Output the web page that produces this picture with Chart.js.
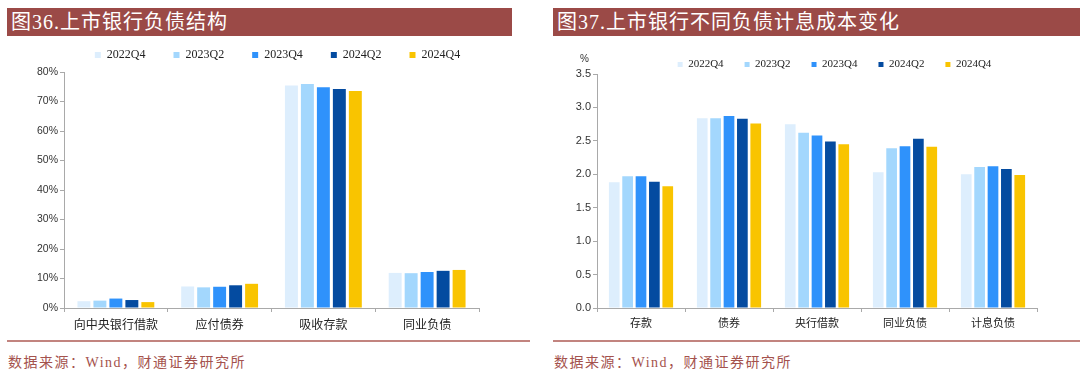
<!DOCTYPE html>
<html lang="zh">
<head>
<meta charset="UTF-8">
<title>上市银行负债结构与计息成本</title>
<script src="https://cdn.jsdelivr.net/npm/chart.js"></script>
<style>
    body {
        margin: 0;
        width: 1080px;
        height: 371px;
        background: #fff;
        position: relative;
        overflow: hidden;
        font-family: "Liberation Serif", "Noto Sans CJK SC", serif;
    }
    .banner {
        position: absolute;
        top: 8px;
        height: 28px;
        background: #9b4a47;
        color: #fff;
        font-size: 20px;
        line-height: 28px;
        padding-left: 4px;
        letter-spacing: 1px;
        box-sizing: border-box;
    }
    .rule {
        position: absolute;
        top: 340px;
        height: 2px;
        background: #c2847f;
    }
    .source {
        position: absolute;
        top: 351px;
        font-size: 14px;
        color: #a4524d;
        letter-spacing: 1.5px;
    }
    canvas { position: absolute; top: 40px; }
    #unit {
        position: absolute;
        left: 580px;
        top: 53px;
        font: 10px "Liberation Sans", sans-serif;
        color: #333;
    }
</style>
</head>
<body>
<div class="banner" style="left:7px;width:505px;">图36.上市银行负债结构</div>
<div class="banner" style="left:553px;width:527px;">图37.上市银行不同负债计息成本变化</div>

<canvas id="structChart" width="490" height="295" style="left:0px"></canvas>
<canvas id="costChart" width="510" height="295" style="left:540px"></canvas>
<div id="unit">%</div>

<div class="rule" style="left:7px;width:523px;"></div>
<div class="rule" style="left:553px;width:527px;"></div>
<div class="source" style="left:8px;">数据来源：Wind，财通证券研究所</div>
<div class="source" style="left:554px;">数据来源：Wind，财通证券研究所</div>

<script>
// series shared by both charts
const seriesNames = ['2022Q4', '2023Q2', '2023Q4', '2024Q2', '2024Q4'];
const seriesColors = ['#ddeefd', '#a3d7fd', '#2f92fb', '#044ba0', '#f9c400'];

// 图36 负债结构 (%)
const structCats = ['向中央银行借款', '应付债券', '吸收存款', '同业负债'];
const struct2022Q4 = [2.3, 7.3, 75.4, 11.9];
const struct2023Q2 = [2.5, 7.0, 75.9, 11.8];
const struct2023Q4 = [3.2, 7.2, 74.8, 12.2];
const struct2024Q2 = [2.7, 7.7, 74.2, 12.6];
const struct2024Q4 = [2.0, 8.2, 73.6, 12.9];
const structTicks = [0, 10, 20, 30, 40, 50, 60, 70, 80];

// 图37 计息成本 (%)
const costCats = ['存款', '债券', '央行借款', '同业负债', '计息负债'];
const cost2022Q4 = [1.88, 2.84, 2.75, 2.03, 2.00];
const cost2023Q2 = [1.97, 2.84, 2.62, 2.39, 2.11];
const cost2023Q4 = [1.97, 2.87, 2.58, 2.42, 2.12];
const cost2024Q2 = [1.89, 2.83, 2.49, 2.53, 2.08];
const cost2024Q4 = [1.82, 2.76, 2.45, 2.41, 1.99];
const costTicks = [0, 0.5, 1.0, 1.5, 2.0, 2.5, 3.0, 3.5];

Chart.defaults.animation = false;
Chart.defaults.color = '#333';

// lets the legend keep wide item spacing but sit closer to the plot
const legendTweak = {
    id: 'legendTweak',
    beforeLayout(chart, args, opts) {
        const lg = chart.legend;
        if (!lg || lg._tweaked) return;
        const fit = lg.fit;
        lg.fit = function () {
            fit.call(this);
            this.height = opts.height;
        };
        lg._tweaked = true;
    },
    afterLayout(chart, args, opts) {
        const lg = chart.legend;
        lg.left += opts.dx;
        lg.right += opts.dx;
        lg.top += opts.dy;
    }
};

function makeDatasets(lists) {
    return lists.map((values, i) => ({
        label: seriesNames[i],
        data: values,
        backgroundColor: seriesColors[i],
        borderWidth: 0
    }));
}

function buildChart(id, cats, lists, ticks, cfg) {
    return new Chart(document.getElementById(id), {
        type: 'bar',
        data: { labels: cats, datasets: makeDatasets(lists) },
        plugins: [legendTweak],
        options: {
            responsive: false,
            devicePixelRatio: 1,
            layout: { padding: { left: 0, right: cfg.padRight, top: 0, bottom: 0 } },
            datasets: {
                bar: {
                    categoryPercentage: cfg.catPct,
                    barPercentage: cfg.barPct
                }
            },
            plugins: {
                tooltip: { enabled: false },
                legendTweak: { height: cfg.legendHeight, dx: cfg.legendDx, dy: cfg.legendDy },
                legend: {
                    position: 'top',
                    labels: {
                        boxWidth: cfg.box,
                        boxHeight: cfg.box,
                        padding: cfg.legendPad,
                        color: '#222',
                        font: { family: '"Liberation Serif", serif', size: cfg.legendFont }
                    }
                }
            },
            scales: {
                x: {
                    grid: {
                        display: true,
                        drawOnChartArea: false,
                        offset: true,
                        tickLength: 4,
                        color: '#a9a9a9'
                    },
                    border: { color: '#a9a9a9', width: 1 },
                    ticks: {
                        padding: cfg.xPad,
                        color: '#222',
                        font: { family: '"Noto Sans CJK SC", sans-serif', size: cfg.xFont }
                    },
                    afterFit(scale) { scale.height = 27; }
                },
                y: {
                    min: ticks[0],
                    max: ticks[ticks.length - 1],
                    afterBuildTicks(scale) {
                        scale.ticks = ticks.map(v => ({ value: v }));
                    },
                    grid: {
                        display: true,
                        drawOnChartArea: false,
                        tickLength: 4,
                        color: '#a9a9a9'
                    },
                    border: { color: '#a9a9a9', width: 1 },
                    ticks: {
                        padding: 2,
                        color: '#333',
                        font: { family: '"Liberation Sans", sans-serif', size: cfg.yFont },
                        callback: cfg.tickFmt
                    },
                    afterFit(scale) { scale.width = cfg.yWidth; }
                }
            }
        }
    });
}

buildChart('structChart', structCats,
    [struct2022Q4, struct2023Q2, struct2023Q4, struct2024Q2, struct2024Q4],
    structTicks, {
        padRight: 11, yWidth: 64,
        catPct: 0.77, barPct: 0.81,
        box: 6, legendPad: 28, legendFont: 12,
        legendHeight: 32, legendDx: 38, legendDy: -19,
        xFont: 12, xPad: 5, yFont: 10.5,
        tickFmt: v => v + '%'
    });

buildChart('costChart', costCats,
    [cost2022Q4, cost2023Q2, cost2023Q4, cost2024Q2, cost2024Q4],
    costTicks, {
        padRight: 13, yWidth: 57,
        catPct: 0.76, barPct: 0.8,
        box: 5, legendPad: 21, legendFont: 11,
        legendHeight: 34, legendDx: 46, legendDy: -2,
        xFont: 11, xPad: 4, yFont: 11,
        tickFmt: v => v.toFixed(1)
    });
</script>
</body>
</html>
